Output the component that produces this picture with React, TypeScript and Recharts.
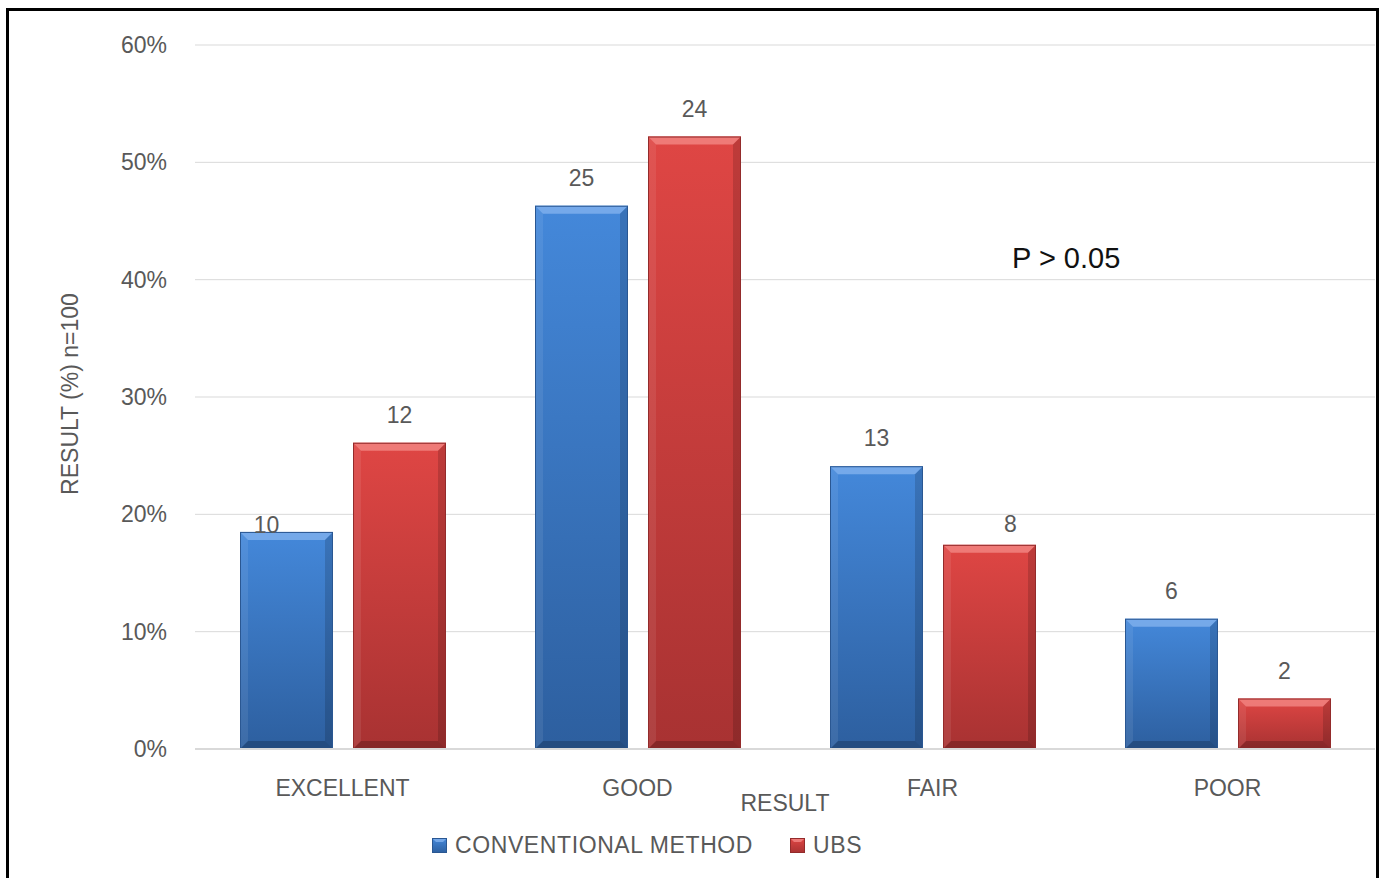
import React from 'react';
import { BarChart, Bar, XAxis, YAxis, CartesianGrid, LabelList, Legend } from 'recharts';

const categories = ['EXCELLENT', 'GOOD', 'FAIR', 'POOR'];
const conventionalPct = [18.5, 46.3, 24.1, 11.1];
const ubsPct = [26.1, 52.2, 17.4, 4.3];
const conventionalCount = [10, 25, 13, 6];
const ubsCount = [12, 24, 8, 2];
const yTicks = [0, 10, 20, 30, 40, 50, 60];
const seriesNames = ['CONVENTIONAL METHOD', 'UBS'];

const data = categories.map((c, i) => ({
  category: c,
  conv: conventionalPct[i],
  ubs: ubsPct[i],
  convN: conventionalCount[i],
  ubsN: ubsCount[i],
}));

const FONT = '"Liberation Sans", Arial, sans-serif';
const TXT = '#595959';
const GRID = '#D9D9D9';

type Pal = { top: string; bottom: string; light: string; edge: string };
const BLUE: Pal = { top: '#4488DA', bottom: '#2D5F9F', light: '#82B2EE', edge: '#2A5792' };
const RED: Pal = { top: '#DF4644', bottom: '#A83232', light: '#F28785', edge: '#932B2B' };

const makeShape = (pal: Pal, id: string) => (props: any) => {
  const { x, y, width: w, height: h, index } = props;
  if (!h || h <= 0) return <g />;
  const b = Math.min(8, h / 2, w / 2);
  const gid = `grad-${id}-${index}`;
  return (
    <g>
      <defs>
        <linearGradient id={gid} x1="0" y1="0" x2="0" y2="1">
          <stop offset="0" stopColor={pal.top} />
          <stop offset="1" stopColor={pal.bottom} />
        </linearGradient>
      </defs>
      <rect x={x} y={y} width={w} height={h} fill={`url(#${gid})`} />
      <polygon
        points={`${x},${y} ${x + w},${y} ${x + w - b},${y + b} ${x + b},${y + b}`}
        fill={pal.light}
        opacity={0.8}
      />
      <polygon
        points={`${x},${y} ${x + b},${y + b} ${x + b},${y + h - b} ${x},${y + h}`}
        fill="#ffffff"
        opacity={0.08}
      />
      <polygon
        points={`${x + w},${y} ${x + w},${y + h} ${x + w - b},${y + h - b} ${x + w - b},${y + b}`}
        fill="#000000"
        opacity={0.15}
      />
      <polygon
        points={`${x},${y + h} ${x + b},${y + h - b} ${x + w - b},${y + h - b} ${x + w},${y + h}`}
        fill="#000000"
        opacity={0.2}
      />
      <rect x={x + 0.5} y={y + 0.5} width={w - 1} height={h - 1} fill="none" stroke={pal.edge} strokeWidth={1} />
    </g>
  );
};

const makeLabel = (key: string) => (p: any) => {
  const { x, y, width, value, index } = p;
  const cat = categories[index];
  let dx = 0;
  let gap = 20;
  if (key === 'conv' && cat === 'EXCELLENT') {
    dx = -20;
    gap = -1;
  } else if (key === 'ubs' && cat === 'FAIR') {
    dx = 21;
    gap = 13;
  }
  const cx = Number(x) + Number(width) / 2 + dx;
  const by = Number(y) - gap;
  return (
    <text x={cx} y={by} textAnchor="middle" fontFamily={FONT} fontSize={23} fill={TXT}>
      {value}
    </text>
  );
};

const LegendIcon = ({ pal }: { pal: Pal }) => (
  <svg width={15} height={15} style={{ display: 'block' }}>
    <defs>
      <linearGradient id={`lg-${pal.top}`} x1="0" y1="0" x2="0" y2="1">
        <stop offset="0" stopColor={pal.top} />
        <stop offset="1" stopColor={pal.bottom} />
      </linearGradient>
    </defs>
    <rect x={0} y={0} width={15} height={15} fill={`url(#lg-${pal.top})`} />
    <polygon points="0,0 15,0 11,4 4,4" fill={pal.light} opacity={0.8} />
    <rect x={0.5} y={0.5} width={14} height={14} fill="none" stroke={pal.edge} />
  </svg>
);

const renderLegend = () => (
  <div style={{ display: 'flex', alignItems: 'center', fontFamily: FONT, fontSize: 23, color: TXT, whiteSpace: 'nowrap', letterSpacing: 0.6 }}>
    <LegendIcon pal={BLUE} />
    <span style={{ marginLeft: 8 }}>{seriesNames[0]}</span>
    <span style={{ width: 37 }} />
    <LegendIcon pal={RED} />
    <span style={{ marginLeft: 8 }}>{seriesNames[1]}</span>
  </div>
);

const YTitle = (p: any) => {
  const vb = p.viewBox || { x: 40, y: 45, width: 155, height: 704 };
  const cx = vb.x + 30;
  const cy = vb.y + vb.height / 2 - 3;
  return (
    <text
      x={cx}
      y={cy}
      transform={`rotate(-90 ${cx} ${cy})`}
      textAnchor="middle"
      dominantBaseline="central"
      fontFamily={FONT}
      fontSize={23}
      fill={TXT}
    >
      RESULT (%) n=100
    </text>
  );
};

const XTitle = (p: any) => {
  const vb = p.viewBox || { x: 195, y: 749, width: 1180, height: 64 };
  return (
    <text x={vb.x + vb.width / 2} y={vb.y + 62} textAnchor="middle" fontFamily={FONT} fontSize={23} fill={TXT}>
      RESULT
    </text>
  );
};

export default function App() {
  return (
    <div style={{ position: 'absolute', left: 0, top: 0, width: 1382, height: 878, overflow: 'hidden', background: '#fff' }}>
      <div
        style={{
          position: 'absolute',
          left: 6,
          top: 8,
          width: 1373,
          height: 900,
          border: '3px solid #000',
          boxSizing: 'border-box',
        }}
      />
      <div style={{ position: 'absolute', left: 0, top: 0 }}>
        <BarChart
          width={1382}
          height={878}
          data={data}
          margin={{ top: 45, right: 7, bottom: 65, left: 40 }}
          barSize={93}
          barGap={20}
        >
          <CartesianGrid vertical={false} stroke={GRID} strokeWidth={1} />
          <XAxis
            dataKey="category"
            height={64}
            axisLine={{ stroke: GRID, strokeWidth: 2 }}
            tickLine={false}
            tickMargin={25}
            tick={{ fill: TXT, fontSize: 23, fontFamily: FONT }}
            label={{ content: XTitle }}
          />
          <YAxis
            domain={[0, 60]}
            ticks={yTicks}
            tickFormatter={(v: number) => `${v}%`}
            axisLine={false}
            tickLine={false}
            width={155}
            tickMargin={22}
            tick={{ fill: TXT, fontSize: 23, fontFamily: FONT }}
            label={{ content: YTitle }}
          />
          <Legend
            layout="horizontal"
            verticalAlign="middle"
            align="center"
            wrapperStyle={{ top: 832, left: 432, width: 520, height: 28 }}
            content={renderLegend}
          />
          <Bar dataKey="conv" name={seriesNames[0]} fill={BLUE.top} shape={makeShape(BLUE, 'conv')} isAnimationActive={false}>
            <LabelList dataKey="convN" content={makeLabel('conv')} />
          </Bar>
          <Bar dataKey="ubs" name={seriesNames[1]} fill={RED.top} shape={makeShape(RED, 'ubs')} isAnimationActive={false}>
            <LabelList dataKey="ubsN" content={makeLabel('ubs')} />
          </Bar>
          <text x={1012} y={268} fontFamily={FONT} fontSize={29} fill="#111">
            P &gt; 0.05
          </text>
        </BarChart>
      </div>
    </div>
  );
}
